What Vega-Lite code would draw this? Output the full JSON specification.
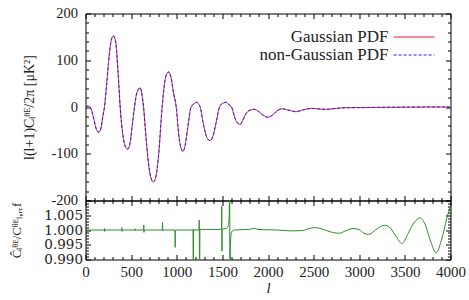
{
  "$schema": "https://vega.github.io/schema/vega-lite/v6.json",
  "padding": {"left": 10.5, "top": 5.5, "right": 17, "bottom": 0},
  "background": "white",
  "spacing": 0,
  "bounds": "flush",
  "config": {
    "view": {"stroke": null},
    "font": "Liberation Serif",
    "axis": {
      "grid": false,
      "domainColor": "#000",
      "domainWidth": 1,
      "tickColor": "#000",
      "tickWidth": 1,
      "labelFont": "Liberation Serif",
      "labelFontSize": 15,
      "labelColor": "#222",
      "labelOverlap": false,
      "labelFlush": false,
      "labelBound": false,
      "titleFont": "Liberation Serif",
      "titleFontSize": 15,
      "titleFontWeight": "normal",
      "titleColor": "#222"
    },
    "legend": {
      "labelFont": "Liberation Serif",
      "labelFontSize": 17,
      "labelColor": "#222"
    }
  },
  "datasets": {
    "spectrum": [
      {"l": 2, "D": 0}, {"l": 20, "D": 2}, {"l": 40, "D": 1.5}, {"l": 60, "D": -3}, {"l": 90, "D": -25},
      {"l": 120, "D": -48}, {"l": 146, "D": -54}, {"l": 170, "D": -45}, {"l": 190, "D": -20}, {"l": 208, "D": 0},
      {"l": 230, "D": 45}, {"l": 260, "D": 110}, {"l": 285, "D": 145}, {"l": 307, "D": 152}, {"l": 330, "D": 140},
      {"l": 355, "D": 80}, {"l": 380, "D": 0}, {"l": 410, "D": -60}, {"l": 440, "D": -86}, {"l": 464, "D": -90},
      {"l": 490, "D": -75}, {"l": 515, "D": -35}, {"l": 537, "D": 0}, {"l": 565, "D": 32}, {"l": 599, "D": 41},
      {"l": 620, "D": 25}, {"l": 636, "D": 0}, {"l": 665, "D": -70}, {"l": 700, "D": -135}, {"l": 725, "D": -156},
      {"l": 745, "D": -160}, {"l": 770, "D": -150}, {"l": 800, "D": -105}, {"l": 840, "D": 0}, {"l": 870, "D": 55},
      {"l": 893, "D": 72}, {"l": 913, "D": 75}, {"l": 935, "D": 65}, {"l": 965, "D": 30}, {"l": 994, "D": 0},
      {"l": 1025, "D": -65}, {"l": 1050, "D": -90}, {"l": 1066, "D": -95}, {"l": 1085, "D": -88}, {"l": 1120, "D": -45},
      {"l": 1157, "D": 0}, {"l": 1190, "D": 7}, {"l": 1220, "D": 10}, {"l": 1240, "D": 6}, {"l": 1257, "D": 0},
      {"l": 1290, "D": -35}, {"l": 1330, "D": -65}, {"l": 1366, "D": -72}, {"l": 1400, "D": -60}, {"l": 1435, "D": -30},
      {"l": 1468, "D": 0}, {"l": 1505, "D": 8}, {"l": 1542, "D": 10}, {"l": 1578, "D": 4}, {"l": 1600, "D": 0},
      {"l": 1640, "D": -25}, {"l": 1670, "D": -35}, {"l": 1695, "D": -37}, {"l": 1725, "D": -28}, {"l": 1760, "D": -14},
      {"l": 1800, "D": -7}, {"l": 1852, "D": -5}, {"l": 1900, "D": -10}, {"l": 1950, "D": -18}, {"l": 1998, "D": -22},
      {"l": 2050, "D": -17}, {"l": 2100, "D": -8}, {"l": 2155, "D": -4}, {"l": 2230, "D": -7}, {"l": 2308, "D": -10},
      {"l": 2390, "D": -6}, {"l": 2473, "D": -3}, {"l": 2550, "D": -4}, {"l": 2637, "D": -5}, {"l": 2750, "D": -3},
      {"l": 2857, "D": -1.5}, {"l": 3000, "D": -1.3}, {"l": 3200, "D": -0.8}, {"l": 3500, "D": -0.3}, {"l": 3800, "D": 0},
      {"l": 4000, "D": 0}
    ],
    "ratio": [
      {"l": 2, "r": 1.0}, {"l": 205, "r": 1.0}, {"l": 208, "r": 1.0005}, {"l": 210, "r": 0.9995}, {"l": 213, "r": 1.0},
      {"l": 395, "r": 1.0}, {"l": 398, "r": 1.0008}, {"l": 400, "r": 0.9995}, {"l": 403, "r": 1.0},
      {"l": 542, "r": 1.0}, {"l": 545, "r": 1.0004}, {"l": 547, "r": 0.9997}, {"l": 550, "r": 1.0},
      {"l": 636, "r": 1.0}, {"l": 639, "r": 1.0017}, {"l": 641, "r": 0.9992}, {"l": 644, "r": 1.0},
      {"l": 841, "r": 1.0}, {"l": 844, "r": 1.0025}, {"l": 846, "r": 0.9997}, {"l": 849, "r": 1.0},
      {"l": 980, "r": 1.0}, {"l": 983, "r": 0.9941}, {"l": 986, "r": 1.0},
      {"l": 1178, "r": 1.0}, {"l": 1182, "r": 0.97}, {"l": 1185, "r": 1.0003}, {"l": 1190, "r": 1.0},
      {"l": 1244, "r": 1.0}, {"l": 1247, "r": 1.0034}, {"l": 1250, "r": 0.97}, {"l": 1254, "r": 1.0002},
      {"l": 1480, "r": 1.0002}, {"l": 1490, "r": 1.0003}, {"l": 1493, "r": 1.008}, {"l": 1495, "r": 0.9928}, {"l": 1498, "r": 1.0003},
      {"l": 1540, "r": 1.0005}, {"l": 1565, "r": 1.0015}, {"l": 1575, "r": 1.005}, {"l": 1580, "r": 1.03},
      {"l": 1582, "r": 0.97}, {"l": 1588, "r": 0.995}, {"l": 1600, "r": 0.9993}, {"l": 1630, "r": 1.0},
      {"l": 1700, "r": 1.0001}, {"l": 1800, "r": 1.0002}, {"l": 1845, "r": 1.0006}, {"l": 1890, "r": 1.0002},
      {"l": 1950, "r": 1.0001}, {"l": 2100, "r": 1.0}, {"l": 2250, "r": 0.9997}, {"l": 2380, "r": 0.9998},
      {"l": 2450, "r": 1.0005}, {"l": 2510, "r": 1.0008}, {"l": 2564, "r": 1.0006}, {"l": 2650, "r": 0.9997},
      {"l": 2720, "r": 0.9991}, {"l": 2784, "r": 0.9989}, {"l": 2850, "r": 0.9997}, {"l": 2929, "r": 1.0005},
      {"l": 3000, "r": 1.0001}, {"l": 3050, "r": 0.9989}, {"l": 3105, "r": 0.9985}, {"l": 3190, "r": 1.0003},
      {"l": 3277, "r": 1.0016}, {"l": 3330, "r": 1.001}, {"l": 3400, "r": 0.998}, {"l": 3471, "r": 0.9954},
      {"l": 3530, "r": 0.9985}, {"l": 3600, "r": 1.0025}, {"l": 3668, "r": 1.0041}, {"l": 3720, "r": 1.002},
      {"l": 3790, "r": 0.9955}, {"l": 3843, "r": 0.9922}, {"l": 3900, "r": 0.9965}, {"l": 3960, "r": 1.004},
      {"l": 4000, "r": 1.0083}
    ]
  },
  "vconcat": [
    {
      "width": 365,
      "height": 187,
      "data": {"name": "spectrum"},
      "layer": [
        {
          "mark": {"type": "line", "strokeWidth": 1, "clip": true, "interpolate": "monotone"},
          "encoding": {
            "x": {
              "field": "l", "type": "quantitative",
              "scale": {"domain": [0, 4000], "nice": false},
              "axis": {
                "orient": "bottom", "title": null, "labels": false,
                "values": [0,100,200,300,400,500,600,700,800,900,1000,1100,1200,1300,1400,1500,1600,1700,1800,1900,2000,2100,2200,2300,2400,2500,2600,2700,2800,2900,3000,3100,3200,3300,3400,3500,3600,3700,3800,3900,4000],
                "tickSize": {"condition": {"test": "datum.value % 500 === 0", "value": -5}, "value": -3}
              }
            },
            "y": {
              "field": "D", "type": "quantitative",
              "scale": {"domain": [-200, 200], "nice": false},
              "axis": {
                "orient": "left",
                "title": "l(l+1)Cₗᶿᴱ/2π  [μK²]",
                "titleFontSize": 14,
                "titleX": -56,
                "titleY": 93.5,
                "titleBaseline": "middle",
                "titleAlign": "center",
                "titleAngle": 270,
                "labelFontSize": 14.5,
                "values": [-200,-180,-160,-140,-120,-100,-80,-60,-40,-20,0,20,40,60,80,100,120,140,160,180,200],
                "labelExpr": "datum.value % 100 === 0 ? datum.value : ''",
                "tickSize": {"condition": {"test": "datum.value % 100 === 0", "value": -5}, "value": -3},
                "labelPadding": 13
              }
            },
            "color": {
              "datum": "Gaussian PDF", "type": "nominal",
              "scale": {"domain": ["Gaussian PDF", "non-Gaussian PDF"], "range": ["#e8202a", "#2020ff"]},
              "legend": {
                "title": null, "orient": "none", "legendX": 319, "legendY": 14,
                "symbolType": "M-2.4,0H2.4", "symbolSize": 289, "symbolStrokeWidth": 1.2,
                "rowPadding": 0, "labelAlign": "right", "labelOffset": -35, "padding": 0
              }
            },
            "strokeDash": {
              "datum": "Gaussian PDF", "type": "nominal",
              "scale": {"domain": ["Gaussian PDF", "non-Gaussian PDF"], "range": [[1, 0], [3, 2]]},
              "legend": {
                "title": null, "orient": "none", "legendX": 319, "legendY": 14,
                "symbolType": "M-2.4,0H2.4", "symbolSize": 289, "symbolStrokeWidth": 1.2,
                "rowPadding": 0, "labelAlign": "right", "labelOffset": -35, "padding": 0
              }
            }
          }
        },
        {
          "mark": {"type": "line", "strokeWidth": 1, "clip": true, "interpolate": "monotone"},
          "encoding": {
            "x": {
              "field": "l", "type": "quantitative",
              "axis": {
                "orient": "top", "title": null, "labels": false,
                "values": [0,100,200,300,400,500,600,700,800,900,1000,1100,1200,1300,1400,1500,1600,1700,1800,1900,2000,2100,2200,2300,2400,2500,2600,2700,2800,2900,3000,3100,3200,3300,3400,3500,3600,3700,3800,3900,4000],
                "tickSize": {"condition": {"test": "datum.value % 500 === 0", "value": -5}, "value": -3}
              }
            },
            "y": {
              "field": "D", "type": "quantitative",
              "axis": {
                "orient": "right", "title": null, "labels": false,
                "values": [-200,-180,-160,-140,-120,-100,-80,-60,-40,-20,0,20,40,60,80,100,120,140,160,180,200],
                "tickSize": {"condition": {"test": "datum.value % 100 === 0", "value": -5}, "value": -3}
              }
            },
            "color": {"datum": "non-Gaussian PDF", "type": "nominal"},
            "strokeDash": {"datum": "non-Gaussian PDF", "type": "nominal"}
          }
        }
      ],
      "resolve": {"axis": {"x": "independent", "y": "independent"}}
    },
    {
      "width": 365,
      "height": 59,
      "data": {"name": "ratio"},
      "layer": [
        {
          "mark": {"type": "line", "strokeWidth": 1, "clip": true, "interpolate": "monotone", "color": "#2a8c2a"},
          "encoding": {
            "x": {
              "field": "l", "type": "quantitative",
              "scale": {"domain": [0, 4000], "nice": false},
              "axis": {
                "orient": "bottom", "title": "l", "titleFontStyle": "italic",
                "titleY": 21, "titleBaseline": "top",
                "values": [0,100,200,300,400,500,600,700,800,900,1000,1100,1200,1300,1400,1500,1600,1700,1800,1900,2000,2100,2200,2300,2400,2500,2600,2700,2800,2900,3000,3100,3200,3300,3400,3500,3600,3700,3800,3900,4000],
                "labelExpr": "datum.value % 500 === 0 ? datum.value : ''",
                "tickSize": {"condition": {"test": "datum.value % 500 === 0", "value": -5}, "value": -3},
                "labelPadding": 10
              }
            },
            "y": {
              "field": "r", "type": "quantitative",
              "scale": {"domain": [0.99, 1.01], "nice": false, "zero": false},
              "axis": {
                "orient": "left",
                "title": "Ĉₗᶿᴱ/Cᶿᴱₗ,ᵣₑf",
                "titleFontSize": 13,
                "titleX": -69,
                "titleY": 29.5,
                "titleBaseline": "middle",
                "titleAlign": "center",
                "titleAngle": 270,
                "labelFont": "DejaVu Serif",
                "labelFontSize": 13.5,
                "values": [0.990,0.991,0.992,0.993,0.994,0.995,0.996,0.997,0.998,0.999,1.000,1.001,1.002,1.003,1.004,1.005,1.006,1.007,1.008,1.009,1.010],
                "labelExpr": "(round(datum.value*1000) % 5 === 0 && datum.value < 1.009) ? format(datum.value, '.3f') : ''",
                "tickSize": {"condition": {"test": "round(datum.value*1000) % 5 === 0", "value": -5}, "value": -3},
                "labelPadding": 8
              }
            }
          }
        },
        {
          "mark": {"type": "line", "strokeWidth": 1, "clip": true, "opacity": 0},
          "encoding": {
            "x": {
              "field": "l", "type": "quantitative",
              "axis": {
                "orient": "top", "title": null, "labels": false,
                "values": [0,100,200,300,400,500,600,700,800,900,1000,1100,1200,1300,1400,1500,1600,1700,1800,1900,2000,2100,2200,2300,2400,2500,2600,2700,2800,2900,3000,3100,3200,3300,3400,3500,3600,3700,3800,3900,4000],
                "tickSize": {"condition": {"test": "datum.value % 500 === 0", "value": -5}, "value": -3}
              }
            },
            "y": {
              "field": "r", "type": "quantitative",
              "axis": {
                "orient": "right", "title": null, "labels": false,
                "values": [0.990,0.991,0.992,0.993,0.994,0.995,0.996,0.997,0.998,0.999,1.000,1.001,1.002,1.003,1.004,1.005,1.006,1.007,1.008,1.009,1.010],
                "tickSize": {"condition": {"test": "round(datum.value*1000) % 5 === 0", "value": -5}, "value": -3}
              }
            }
          }
        }
      ],
      "resolve": {"axis": {"x": "independent", "y": "independent"}}
    }
  ]
}
